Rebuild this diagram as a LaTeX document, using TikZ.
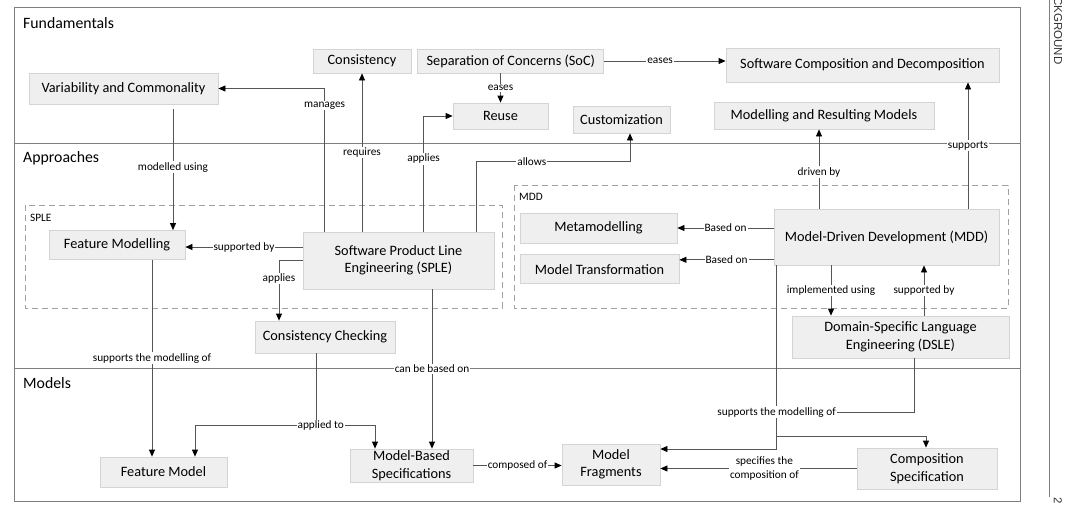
\documentclass[tikz,border=0pt]{standalone}
\usepackage{fontspec}
\setmainfont{Carlito}
\newfontfamily\hdrfont{Liberation Sans}
\usepackage{tikz}
\usetikzlibrary{positioning, arrows.meta}
\definecolor{boxFill}{HTML}{EFEFEF}
\definecolor{boxLine}{HTML}{D4D4D4}
\definecolor{frameGray}{HTML}{7F7F7F}
\definecolor{dashGray}{HTML}{A0A0A0}
\definecolor{lineGray}{HTML}{555555}

\begin{document}
\begin{tikzpicture}[x=1pt, y=-1pt,
  box/.style={draw=boxLine, fill=boxFill, line width=0.8pt, align=center,
    inner sep=0pt, font=\fontsize{14.3}{17.5}\selectfont},
  lbl/.style={fill=white, inner sep=1pt, align=center,
    font=\fontsize{11.3}{14}\selectfont},
  link/.style={draw=lineGray, line width=0.8pt},
  arr/.style={link, -{Triangle[length=7pt, width=6pt, color=black]}},
  sect/.style={anchor=west, inner sep=0pt, font=\fontsize{15.8}{18}\selectfont},
  grp/.style={draw=dashGray, line width=0.8pt, dash pattern=on 6pt off 4pt},
  grplbl/.style={anchor=west, inner sep=0pt, font=\fontsize{11.3}{14}\selectfont}
]
\useasboundingbox[fill=white] (0,0) rectangle (1065,507);

\draw[frameGray, line width=0.8pt] (14,7) rectangle (1020,501);
\draw[frameGray, line width=0.8pt] (14,143) -- (1020,143);
\draw[frameGray, line width=0.8pt] (14,368) -- (1020,368);
\draw[frameGray, line width=0.8pt] (1049,0) -- (1049,497);
\node[rotate=-90, inner sep=0pt, text=black!80, font=\hdrfont\fontsize{11.5}{14}\selectfont] (chap) at (1058,31) {CKGROUND};
\node[rotate=-90, inner sep=0pt, text=black!80, font=\hdrfont\fontsize{11.5}{14}\selectfont] (page) at (1058,501) {2};

\node[sect] (fund) at (23,23) {Fundamentals};
\node[sect] (appr) at (23,158) {Approaches};
\node[sect] (mods) at (23,383) {Models};

\draw[grp] (25,205) rectangle (502,308);
\draw[grp] (514,185) rectangle (1008,308);
\node[grplbl] (splelbl) at (30,218) {SPLE};
\node[grplbl] (mddlbl) at (519,197) {MDD};

\node[box, minimum width=189pt, minimum height=31pt] (varcom) at (123.5,88.5) {Variability and Commonality};
\node[box, minimum width=98pt, minimum height=24pt] (consist) at (362,61) {Consistency};
\node[box, minimum width=186pt, minimum height=24pt, right=6pt of consist] (soc) {Separation of Concerns (SoC)};
\node[box, minimum width=95pt, minimum height=26pt] (reuse) at (500.5,116) {Reuse};
\node[box, minimum width=97pt, minimum height=27pt] (custom) at (621.5,119.5) {Customization};
\node[box, minimum width=273pt, minimum height=34pt] (scd) at (862.5,65) {Software Composition and Decomposition};
\node[box, minimum width=220pt, minimum height=27pt] (mrm) at (824,115.5) {Modelling and Resulting Models};

\node[box, minimum width=136pt, minimum height=29pt] (fmod) at (117,245) {Feature Modelling};
\node[box, minimum width=191pt, minimum height=57pt] (sple) at (398.5,260.5) {Software Product Line\\Engineering (SPLE)};
\node[box, minimum width=140pt, minimum height=32pt] (cc) at (325,337) {Consistency Checking};
\node[box, minimum width=157pt, minimum height=30pt] (meta) at (598.5,228) {Metamodelling};
\node[box, minimum width=159pt, minimum height=29pt, below=11pt of meta.south west, anchor=north west] (mt) {Model Transformation};
\node[box, minimum width=225pt, minimum height=56pt] (mdd) at (886.5,237) {Model-Driven Development (MDD)};
\node[box, minimum width=217pt, minimum height=42pt] (dsle) at (900.5,337) {Domain-Specific Language\\Engineering (DSLE)};

\node[box, minimum width=127pt, minimum height=30pt] (fmodel) at (163.5,472) {Feature Model};
\node[box, minimum width=123pt, minimum height=33pt] (mbs) at (411.5,465.5) {Model-Based\\Specifications};
\node[box, minimum width=98pt, minimum height=41pt] (mfrag) at (611,464.5) {Model\\Fragments};
\node[box, minimum width=140pt, minimum height=41pt] (cspec) at (927,468.5) {Composition\\Specification};

\draw[arr] ([xshift=22pt]sple.north west) |- node[lbl, pos=0.44]{manages} (varcom.east);
\draw[arr] (consist.south |- sple.north) -- node[lbl]{requires} (consist.south);
\draw[arr] ([xshift=121pt]sple.north west) |- node[lbl, pos=0.315]{applies} (reuse.west);
\draw[arr] ([xshift=174pt]sple.north west) -- ++(0,-70) -| node[lbl, pos=0.18]{allows} ([xshift=8.5pt]custom.south);
\draw[arr] (soc.south -| reuse.north) -- node[lbl]{eases} (reuse.north);
\draw[arr] (soc.east) -- node[lbl, pos=0.46]{eases} (soc.east -| scd.west);

\draw[arr, shorten <=5pt] ([xshift=49.5pt]varcom.south) -- node[lbl]{modelled using} ([xshift=49.5pt]varcom.south |- fmod.north);
\draw[arr] ([yshift=-2pt]sple.west |- fmod.east) -- node[lbl]{supported by} ([yshift=-2pt]fmod.east);
\draw[arr] (sple.west) -| node[lbl, pos=0.65]{applies} ([xshift=-46pt]cc.north);
\draw[arr] ([xshift=35pt]fmod.south) -- node[lbl]{supports the modelling of} ([xshift=35pt]fmod.south |- fmodel.north);

\draw[link] ([xshift=-9pt]cc.south) -- ++(0,72) coordinate (appjoin);
\draw[arr] (appjoin) -| ([xshift=31.5pt]fmodel.north);
\draw[arr] (appjoin) -| node[lbl, pos=0.04]{applied to} ([xshift=-36.5pt]mbs.north);
\draw[arr] ([xshift=33.5pt]sple.south) -- node[lbl]{can be based on} ([xshift=33.5pt]sple.south |- mbs.north);
\draw[arr] (mbs.east) -- node[lbl]{composed of} (mbs.east -| mfrag.west);
\draw[arr] (cspec.west) -- node[lbl, pos=0.47]{specifies the\\composition of} (cspec.west -| mfrag.east);

\draw[arr] ([xshift=81.5pt]mdd.north) -- node[lbl]{supports} ([xshift=81.5pt]mdd.north |- scd.south);
\draw[arr] ([xshift=-67.5pt]mdd.north) -- node[lbl, pos=0.46]{driven by} ([xshift=-67.5pt]mdd.north |- mrm.south);
\draw[arr] (mdd.west |- meta.east) -- node[lbl]{Based on} (meta.east);
\coordinate (mtin) at ([yshift=9.5pt]mt.east);
\draw[arr] (mtin -| mdd.west) -- node[lbl]{Based on} (mtin);
\draw[arr] ([xshift=-55.5pt]mdd.south) -- node[lbl]{implemented using} ([xshift=-55.5pt]mdd.south |- dsle.north);
\draw[arr] ([xshift=23.5pt]dsle.north) -- node[lbl]{supported by} ([xshift=23.5pt]dsle.north |- mdd.south);

\coordinate (mfragin) at ([yshift=15.5pt]mfrag.east);
\draw[arr] ([xshift=3pt]mdd.south west) |- node[lbl, pos=0.4] (smlbl) {supports the modelling of} (mfragin);
\path ([xshift=3pt]mdd.south west) ++(0,171) coordinate (msplit);
\draw[arr] (msplit) -| ([xshift=-1pt]cspec.north);
\draw[link] ([xshift=13.5pt]dsle.south) |- (smlbl.east);

\end{tikzpicture}
\end{document}
